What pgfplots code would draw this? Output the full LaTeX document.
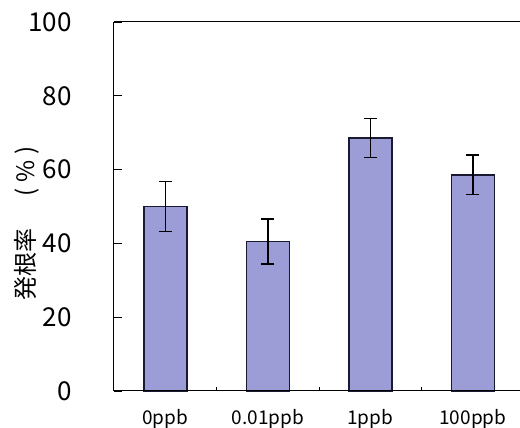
\documentclass[border=0pt]{standalone}
\usepackage{pgfplots}
\pgfplotsset{compat=1.18}
\usepackage{fontspec}
\setmainfont{Noto Sans CJK JP}
\definecolor{barfill}{RGB}{156,156,214}
\definecolor{baredge}{RGB}{25,25,50}
\begin{document}
\begin{tikzpicture}
\begin{axis}[
  scale only axis,
  width=406pt, height=369pt,
  xmin=-0.5, xmax=3.46,
  ymin=0, ymax=100,
  ytick={0,20,40,60,80,100},
  tick align=inside,
  tick pos=left,
  major tick length=8pt,
  xtick={0,1,2,3},
  xticklabels={0ppb,0.01ppb,1ppb,100ppb},
  x tick style={draw=none},
  xticklabel style={font=\fontsize{19}{19}\selectfont, anchor=base, inner sep=0pt, yshift=-34pt},
  yticklabel style={font=\fontsize{26}{26}\selectfont, anchor=east, inner sep=0pt, xshift=-42pt},
  /pgf/number format/assume math mode=true,
  axis line style={draw=none},
  y tick style={line width=0.8pt, black},
  clip=false,
]
\addplot[ybar, bar width=43pt, bar shift=0pt, fill=barfill, draw=baredge, line width=1.5pt,
  error bars/.cd, y dir=both, y explicit,
  error bar style={line width=1.5pt, black},
  error mark options={black, line width=1.5pt, mark size=6.5pt, rotate=90}]
  coordinates {
    (0,50.0)  +- (0,6.8)
    (1,40.5)  +- (0,6.1)
    (2,68.6)  +- (0,5.3)
    (3,58.6)  +- (0,5.3)
  };
\draw[line width=1pt, black] (rel axis cs:0,1) -- (rel axis cs:0,0) -- (rel axis cs:1,0);
\draw[line width=1pt, black] (rel axis cs:0,1) -- (rel axis cs:1,1);
\draw[line width=0.8pt, black] (axis cs:0.5,0) -- ([yshift=4pt]axis cs:0.5,0);
\draw[line width=0.8pt, black] (axis cs:1.5,0) -- ([yshift=4pt]axis cs:1.5,0);
\draw[line width=0.8pt, black] (axis cs:2.5,0) -- ([yshift=4pt]axis cs:2.5,0);
\coordinate (bl) at (rel axis cs:0,0);
\end{axis}
\node[rotate=90, font=\fontsize{24}{24}\selectfont, inner sep=0pt] at ([shift={(-87pt,167.5pt)}]bl) {発根率\hspace{1.33em}(\hspace{0.25em}\%\hspace{0.25em})};
\pgfresetboundingbox
\path[use as bounding box] ([shift={(-114pt,-37pt)}]bl) rectangle ([shift={(406pt,391pt)}]bl);
\end{tikzpicture}
\end{document}
